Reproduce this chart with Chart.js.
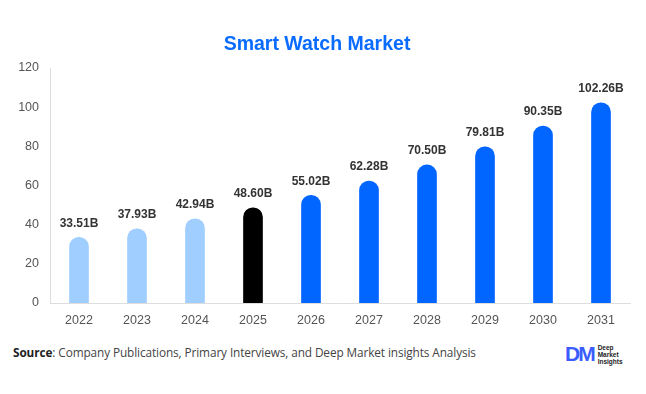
<!DOCTYPE html>
<html><head><meta charset="utf-8">
<script src="https://cdn.jsdelivr.net/npm/chart.js@4/dist/chart.umd.min.js"></script>
<style>
html,body{margin:0;padding:0;background:#fff;width:646px;height:394px;overflow:hidden;}
#wrap{position:relative;width:646px;height:394px;}
canvas{position:absolute;left:0;top:0;}
#src{position:absolute;left:13px;top:344px;font-family:"Open Sans",Lato,sans-serif;font-size:11.8px;letter-spacing:-0.1px;color:#444;}
#src b{font-weight:700;color:#222;}
#logo{position:absolute;left:565px;top:342px;display:flex;align-items:center;}
#logo .dm{font-family:"Liberation Sans",Arial,sans-serif;font-weight:900;font-size:21px;color:#3a5cff;letter-spacing:-2px;}
#logo .t{font-family:"Liberation Sans",Arial,sans-serif;font-size:6.5px;line-height:7px;color:#222;margin-left:4px;font-weight:700;}
</style></head>
<body><div id="wrap">
<canvas id="c" width="646" height="340"></canvas>
<div id="src"><b>Source</b>: Company Publications, Primary Interviews, and Deep Market insights Analysis</div>
<div id="logo"><span class="dm">DM</span><span class="t">Deep<br>Market<br>Insights</span></div>
</div>
<script>
const title = "Smart Watch Market";
const categories = ["2022","2023","2024","2025","2026","2027","2028","2029","2030","2031"];
const values = [33.51,37.93,42.94,48.60,55.02,62.28,70.50,79.81,90.35,102.26];
const valueLabels = ["33.51B","37.93B","42.94B","48.60B","55.02B","62.28B","70.50B","79.81B","90.35B","102.26B"];
const barColors = ["#a0cefe","#a0cefe","#a0cefe","#000000","#0066ff","#0066ff","#0066ff","#0066ff","#0066ff","#0066ff"];

const titlePlugin = {
  id:'titleText',
  afterDraw(chart){
    const ctx = chart.ctx;
    ctx.save();
    ctx.font = 'bold 19.5px "Liberation Sans", Arial, sans-serif';
    ctx.fillStyle = '#0a6cff';
    ctx.textAlign = 'center';
    ctx.textBaseline = 'middle';
    ctx.fillText(title, 317, 45);
    ctx.restore();
  }
};
const labelPlugin = {
  id:'valLabels',
  afterDatasetsDraw(chart){
    const ctx = chart.ctx;
    const meta = chart.getDatasetMeta(0);
    ctx.save();
    ctx.font = 'bold 12px "Liberation Sans", Arial, sans-serif';
    ctx.fillStyle = '#333';
    ctx.textAlign = 'center';
    ctx.textBaseline = 'bottom';
    meta.data.forEach((el,i)=>{
      ctx.fillText(valueLabels[i], el.x, el.y - 8);
    });
    ctx.restore();
  }
};

new Chart(document.getElementById('c'), {
  type:'bar',
  data:{labels:categories, datasets:[{data:values, backgroundColor:barColors, barThickness:19,
    borderRadius:{topLeft:10,topRight:10,bottomLeft:0,bottomRight:0}, borderSkipped:'bottom'}]},
  options:{
    responsive:false, animation:false,
    layout:{padding:{top:68,right:16,left:0,bottom:0}},
    plugins:{legend:{display:false}, tooltip:{enabled:false}, title:{display:false}},
    scales:{
      x:{grid:{display:false, drawTicks:false}, border:{color:'#ddd'},
         ticks:{color:'#555', font:{size:12.5, family:'"Liberation Sans", Arial, sans-serif'}, padding:10},
         afterFit(s){s.height=37;}},
      y:{min:0,max:120, grid:{display:false, drawTicks:false}, border:{color:'#ddd'},
         ticks:{stepSize:20, color:'#555', font:{size:12.5, family:'"Liberation Sans", Arial, sans-serif'}, padding:11},
         afterFit(s){s.width=50;}}
    }
  },
  plugins:[titlePlugin,labelPlugin]
});
</script>
</body></html>
